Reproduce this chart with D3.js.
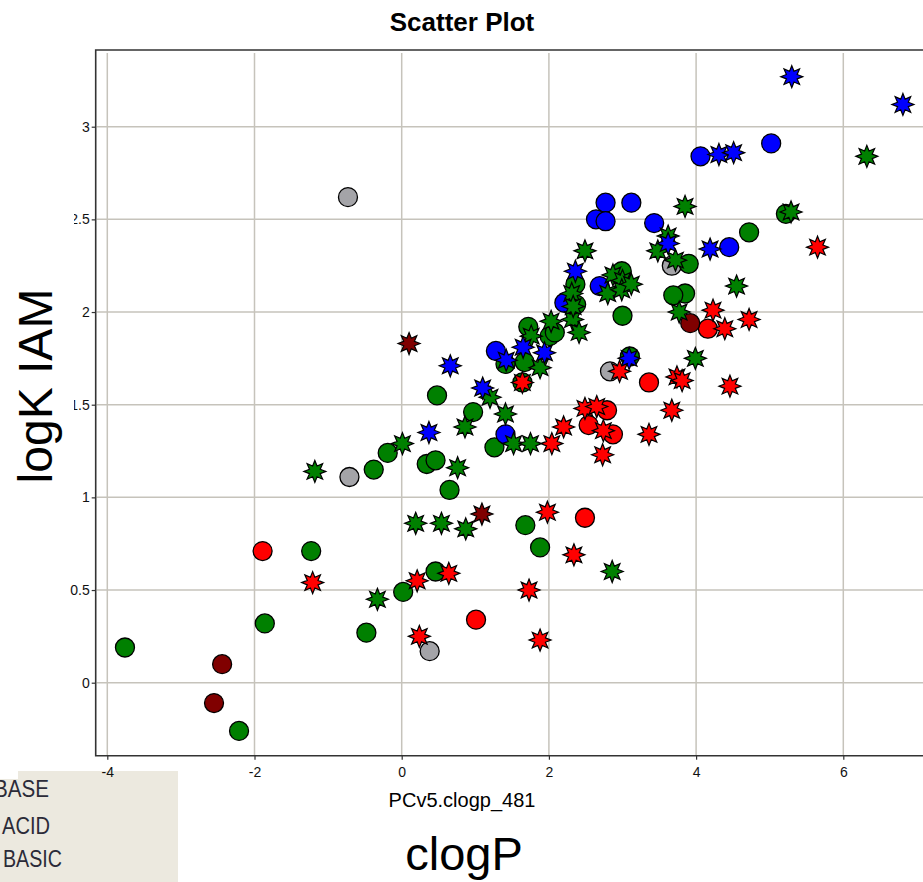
<!DOCTYPE html>
<html>
<head>
<meta charset="utf-8">
<script src="https://cdn.jsdelivr.net/npm/d3@7"></script>
<style>
  body { margin: 0; background: #fff; overflow: hidden; }
  svg { display: block; font-family: "Liberation Sans", Arial, sans-serif; }
</style>
</head>
<body>
<svg id="chart" width="923" height="882"></svg>
<script>
// values: [clogP, logK IAM]
var grayCircles = [[-0.73,2.62],[-0.71,1.11],[0.38,0.17],[2.83,1.68],[3.67,2.25]];
var greenCircles = [[-3.76,0.19],[-1.86,0.32],[-2.21,-0.26],[-0.48,0.27],[0.02,0.49],[0.46,0.60],
  [-1.23,0.71],[-0.38,1.15],[-0.19,1.24],[0.34,1.18],[0.46,1.20],[0.48,1.55],[0.65,1.04],
  [0.97,1.46],[1.26,1.27],[1.68,0.85],[1.88,0.73],[3.00,1.98],[1.72,1.92],[2.01,1.87],
  [2.08,1.89],[1.41,1.72],[1.67,1.73],[1.64,1.62],[3.10,1.76],[3.90,2.26],[4.72,2.43],
  [5.22,2.53],[3.85,2.10],[3.69,2.09],[2.99,2.22],[2.36,2.15],[2.37,2.04]];
var blueCircles = [[4.06,2.84],[5.02,2.91],[2.77,2.59],[3.12,2.59],[2.64,2.50],[2.77,2.49],
  [3.43,2.48],[4.45,2.35],[2.69,2.14],[2.21,2.05],[1.28,1.79],[1.41,1.34]];
var redCircles = [[-1.89,0.71],[1.01,0.34],[2.49,0.89],[3.36,1.62],[4.16,1.91],[2.54,1.39],
  [2.79,1.47],[2.87,1.34]];
var darkRedCircles = [[-2.44,0.10],[-2.55,-0.11],[3.92,1.94]];

var greenStars = [[-1.18,1.14],[0.01,1.29],[0.19,0.86],[0.54,0.86],[-0.33,0.45],[0.86,1.38],
  [0.76,1.16],[0.87,0.83],[2.86,0.60],[1.52,1.29],[1.75,1.29],[1.41,1.45],[1.20,1.54],
  [1.88,1.70],[2.03,1.95],[2.32,1.96],[2.41,1.89],[1.76,1.87],[3.77,2.00],[3.99,1.75],
  [3.85,2.57],[3.48,2.33],[3.72,2.28],[3.62,2.41],[2.87,2.20],[3.00,2.17],[2.80,2.10],
  [2.99,2.12],[3.12,2.15],[4.55,2.14],[2.49,2.33],[2.31,2.10],[2.33,2.03],[6.32,2.84],
  [5.29,2.54]];
var blueStars = [[5.30,3.27],[6.81,3.12],[4.31,2.85],[4.51,2.86],[4.19,2.34],[3.62,2.37],
  [2.36,2.22],[0.66,1.71],[1.10,1.59],[0.37,1.35],[1.65,1.81],[1.42,1.74],[1.94,1.78],
  [3.09,1.75]];
var redStars = [[-1.21,0.54],[0.21,0.55],[0.64,0.59],[0.24,0.25],[1.88,0.23],[1.73,0.50],
  [2.34,0.69],[1.98,0.92],[2.04,1.29],[2.20,1.38],[2.49,1.48],[2.65,1.49],[2.74,1.36],
  [2.73,1.23],[3.36,1.34],[3.67,1.47],[3.74,1.65],[3.81,1.63],[2.96,1.68],[1.64,1.62],
  [4.46,1.60],[4.23,2.01],[4.39,1.91],[4.72,1.96],[5.65,2.35]];
var darkRedStars = [[0.10,1.83],[1.09,0.91]];

var xTicks = [-4, -2, 0, 2, 4, 6];
var yTicks = [0, 0.5, 1, 1.5, 2, 2.5, 3];
var legendLabels = ["BASE", "ACID", "BASIC"];

var svg = d3.select("#chart");
var frame = {left: 95.7, top: 50, right: 960, bottom: 755.7};

var x = d3.scaleLinear().domain([-4, 6]).range([107.3, 843.3]);
var y = d3.scaleLinear().domain([0, 3]).range([682.7, 126.7]);

// legend remnant, bottom-left (drawn first, the -4 label sits on top of it)
svg.append("rect").attr("x", 18).attr("y", 771).attr("width", 160).attr("height", 111).attr("fill", "#ece9df");
svg.append("rect").attr("x", 0).attr("y", 779).attr("width", 18).attr("height", 103).attr("fill", "#ece9df");
svg.append("g").selectAll("text").data(legendLabels).enter().append("text")
    .attr("x", (d, i) => [-6, 2, 3][i])
    .attr("y", (d, i) => [797, 834, 867][i])
    .attr("fill", "#2b2b38")
    .attr("textLength", (d, i) => [55, 48, 59][i])
    .attr("lengthAdjust", "spacingAndGlyphs")
    .style("font-size", "23px").text(d => d);

// grid
var gridColor = "#c6c3bb";
svg.append("g").selectAll("line").data(xTicks).enter().append("line")
    .attr("x1", d => x(d)).attr("x2", d => x(d))
    .attr("y1", frame.top + 3).attr("y2", frame.bottom)
    .attr("stroke", gridColor).attr("stroke-width", 1.5);
svg.append("g").selectAll("line").data(yTicks).enter().append("line")
    .attr("x1", frame.left + 1).attr("x2", frame.right)
    .attr("y1", d => y(d)).attr("y2", d => y(d))
    .attr("stroke", gridColor).attr("stroke-width", 1.5);

// frame (right side is out of view)
svg.append("path")
    .attr("d", "M" + frame.right + "," + frame.top + "H" + frame.left + "V" + frame.bottom + "H" + frame.right)
    .attr("fill", "none").attr("stroke", "#333").attr("stroke-width", 1.6);

// axes
var xAxis = svg.append("g").attr("transform", "translate(0," + frame.bottom + ")")
    .call(d3.axisBottom(x).tickValues(xTicks).tickSize(4).tickPadding(7).tickFormat(d => String(d)));
var yAxis = svg.append("g").attr("transform", "translate(" + frame.left + ",0)")
    .call(d3.axisLeft(y).tickValues(yTicks).tickSize(4).tickPadding(2).tickFormat(d => String(d)));
[xAxis, yAxis].forEach(function(a){
    a.select(".domain").remove();
    a.selectAll(".tick line").attr("stroke", "#333").attr("stroke-width", 1.2);
    a.selectAll(".tick text").attr("fill", "#111")
        .style("font-family", "'Liberation Sans', Arial, sans-serif").style("font-size", "14px");
});

// markers
var starPath = d3.lineRadial()
    .angle((d, i) => i * Math.PI / 8)
    .radius((d, i) => i % 2 === 0 ? 11 : 5.8)
    .curve(d3.curveLinearClosed)(d3.range(16));

function circles(data, fill){
    svg.append("g").selectAll("circle").data(data).enter().append("circle")
        .attr("cx", d => x(d[0])).attr("cy", d => y(d[1])).attr("r", 9.5)
        .attr("fill", fill).attr("stroke", "#000").attr("stroke-width", 1.3);
}
function stars(data, fill){
    svg.append("g").selectAll("path").data(data).enter().append("path")
        .attr("d", starPath)
        .attr("transform", d => "translate(" + x(d[0]) + "," + y(d[1]) + ")")
        .attr("fill", fill).attr("stroke", "#000").attr("stroke-width", 1.2);
}
circles(grayCircles, "#a4a4a8");
circles(greenCircles, "#008000");
circles(blueCircles, "#0000ff");
circles(redCircles, "#ff0000");
circles(darkRedCircles, "#800000");
stars(greenStars, "#008000");
stars(blueStars, "#0000ff");
stars(redStars, "#ff0000");
stars(darkRedStars, "#800000");

// titles
svg.append("text").attr("x", 462).attr("y", 31).attr("text-anchor", "middle")
    .style("font-size", "26px").style("font-weight", "bold").text("Scatter Plot");
svg.append("text").attr("x", 462).attr("y", 807).attr("text-anchor", "middle")
    .style("font-size", "20px").text("PCv5.clogp_481");
svg.append("text").attr("x", 464).attr("y", 870).attr("text-anchor", "middle")
    .style("font-size", "47px").text("clogP");

// white patch behind the big y label (hides part of the tick labels)
svg.append("rect").attr("x", 0).attr("y", 140).attr("width", 74).attr("height", 435).attr("fill", "#fff");
svg.append("text").attr("transform", "translate(52,386) rotate(-90)").attr("text-anchor", "middle")
    .style("font-size", "48px").text("logK IAM");
</script>
</body>
</html>
